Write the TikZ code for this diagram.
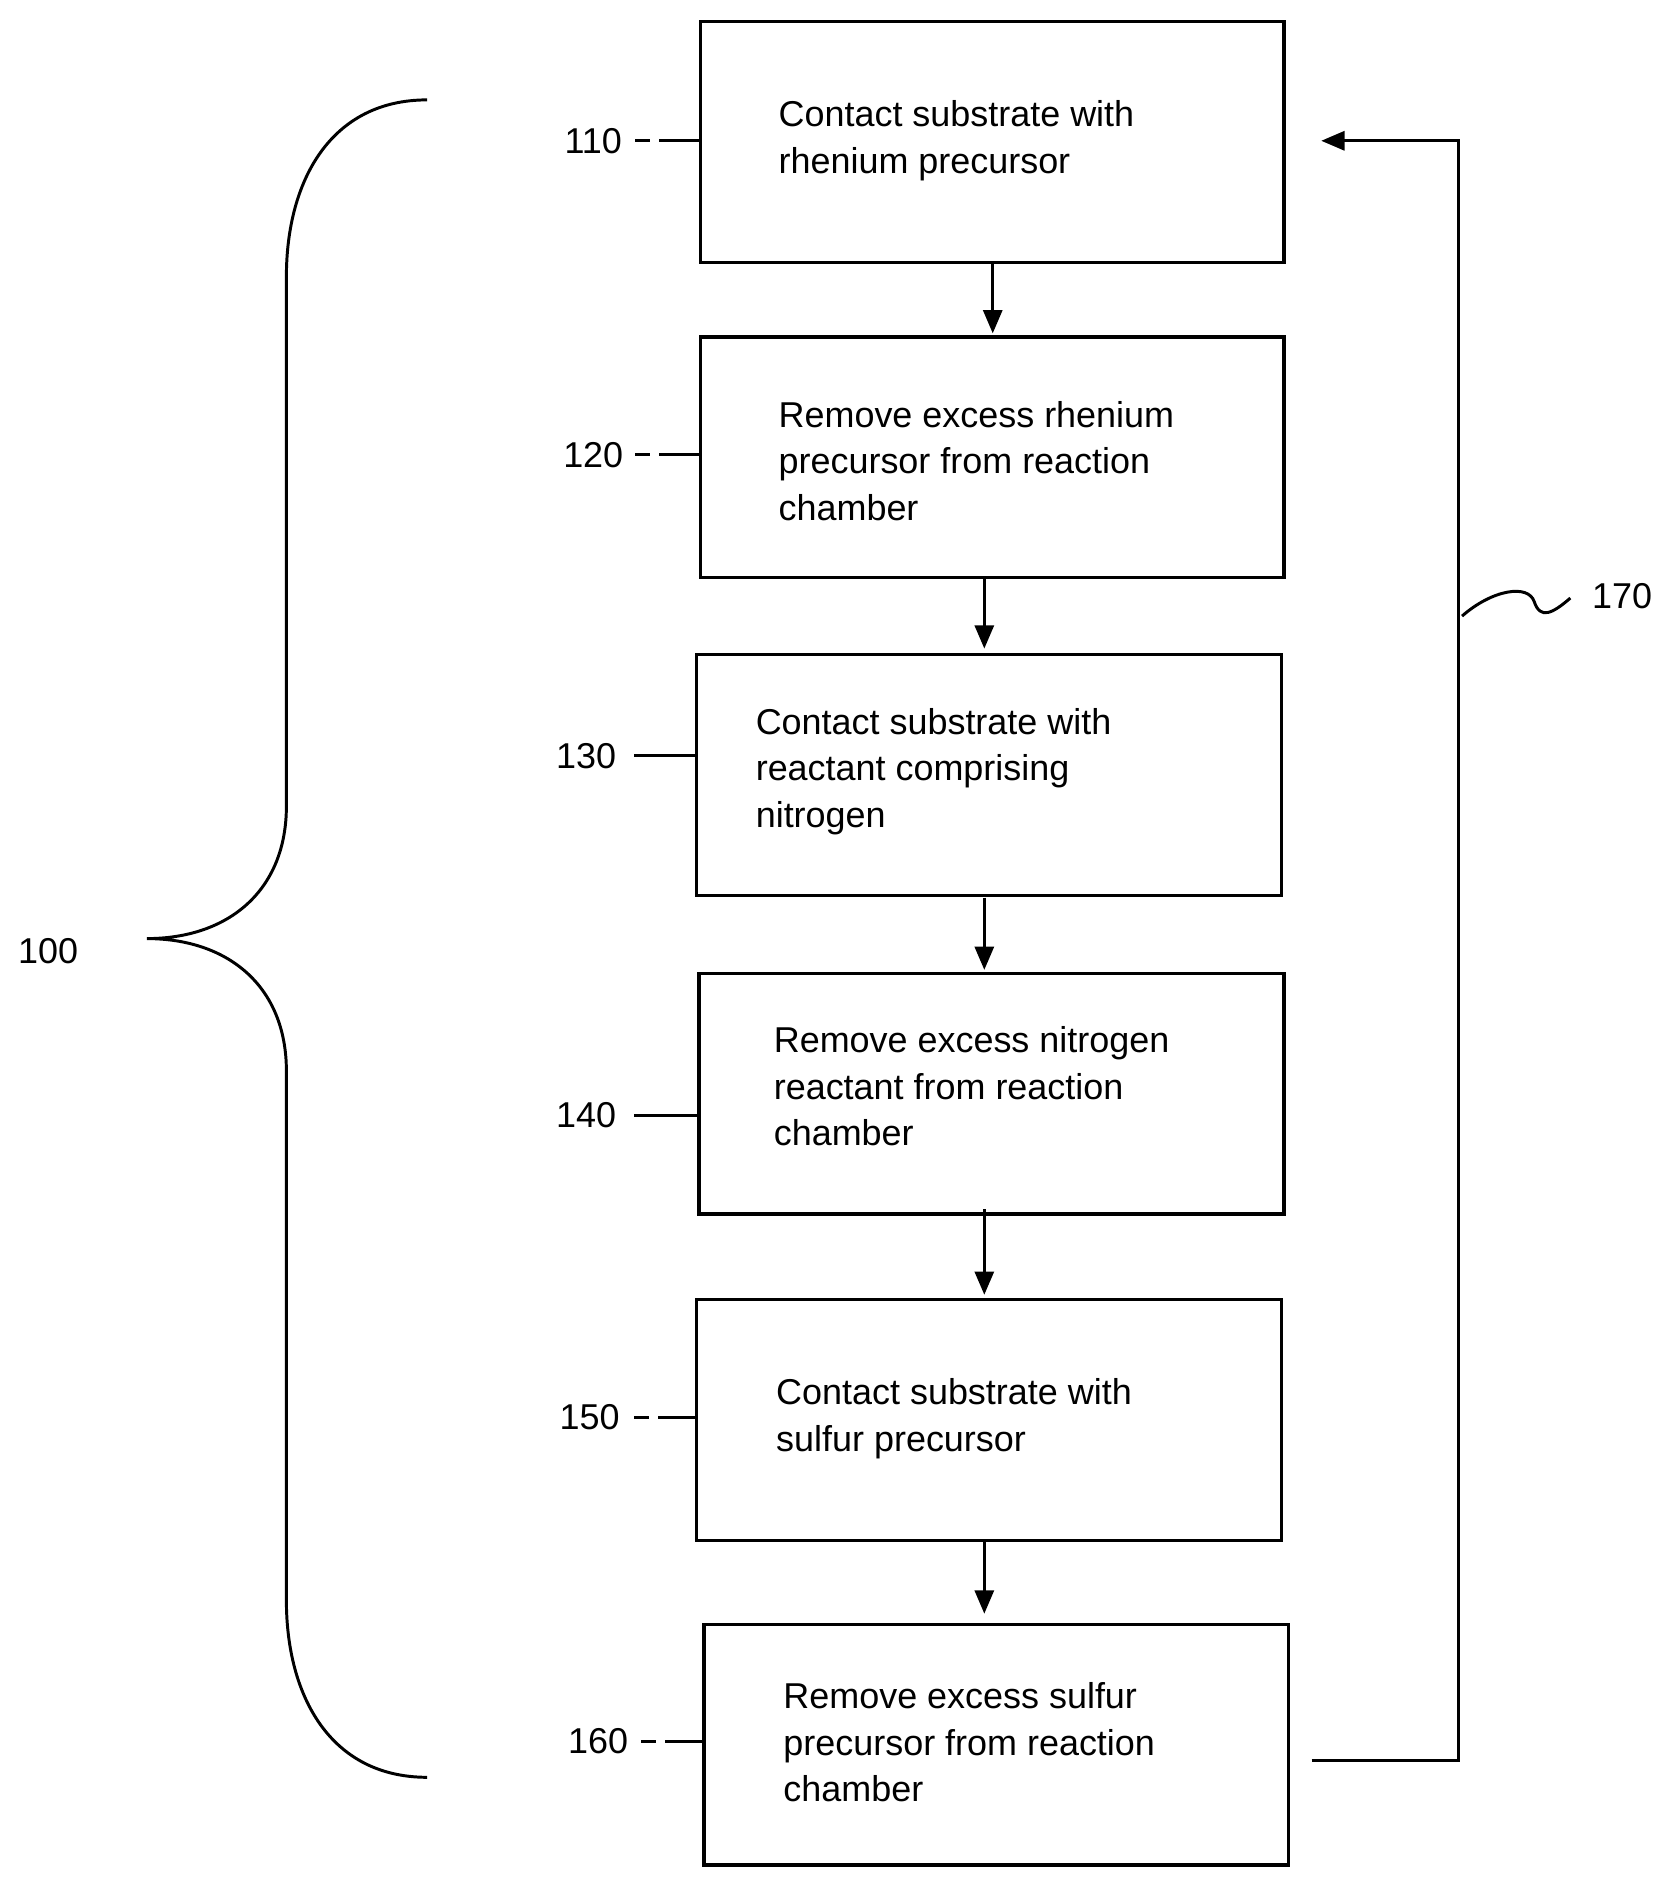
\documentclass[tikz,border=0pt]{standalone}
\usepackage{fontspec}
\setmainfont{Liberation Sans}
\usetikzlibrary{arrows.meta}
\begin{document}
\begin{tikzpicture}[x=0.02cm,y=-0.02cm,line width=1.4pt,
  box/.style={draw,line width=1.6pt},
  txt/.style={anchor=west,align=left,font=\fontsize{17}{22}\selectfont},
  lbl/.style={font=\fontsize{17}{20}\selectfont},
  arr/.style={-{Triangle[length=11pt,width=9pt]}}]
\useasboundingbox (0,0) rectangle (1390,1569);
\draw[box] (582,18) rectangle (1067,218) coordinate (b1);
\draw[box] (582,280) rectangle (1067,480);
\draw[box] (579,544) rectangle (1065,744);
\draw[box] (581,809) rectangle (1067,1009);
\draw[box] (579,1080) rectangle (1065,1280);
\draw[box] (585,1350) rectangle (1071,1550);
\node[txt] (t1) at (640,117) {Contact substrate with\\rhenium precursor};
\node[txt] (t2) at (640,383) {Remove excess rhenium\\precursor from reaction\\chamber};
\node[txt] (t3) at (621,641) {Contact substrate with\\reactant comprising\\nitrogen};
\node[txt] (t4) at (636,903) {Remove excess nitrogen\\reactant from reaction\\chamber};
\node[txt] (t5) at (638,1179) {Contact substrate with\\sulfur precursor};
\node[txt] (t6) at (644,1448) {Remove excess sulfur\\precursor from reaction\\chamber};
\coordinate (a1) at (825,218); \coordinate (a1e) at (825,277);
\draw[arr] (825,218) -- (825,277);
\draw[arr] (818,480) -- (818,539);
\draw[arr] (818,746) -- (818,806);
\draw[arr] (818,1005) -- (818,1076);
\draw[arr] (818,1280) -- (818,1341);
\draw[arr] (1090,1463) -- (1212,1463) -- (1212,117) -- (1098,117);
\draw (1215,512) .. controls (1240,490) and (1270,485) .. (1275,500) .. controls (1280,515) and (1290,510) .. (1305,497);
\node[lbl] (l170) at (1348,495) {170};
\node[lbl] (l100) at (40,790) {100};
\node[lbl] (l110) at (493,117) {110};
\node[lbl] (l120) at (493,378) {120};
\node[lbl] (l130) at (487,628) {130};
\node[lbl] (l140) at (487,927) {140};
\node[lbl] (l150) at (490,1178) {150};
\node[lbl] (l160) at (497,1447) {160};
\draw (528,117)--(540,117) (548,117)--(582,117);
\draw (528,378)--(540,378) (548,378)--(582,378);
\draw (527,628)--(579,628);
\draw (527,927)--(581,927);
\draw (527,1178)--(539,1178) (547,1178)--(579,1178);
\draw (533,1447)--(545,1447) (553,1447)--(585,1447);
\draw (355,83) .. controls (275,83) and (238,150) .. (238,230) -- (238,670)
  .. controls (238,740) and (190,780) .. (122,780)
  .. controls (190,780) and (238,820) .. (238,890) -- (238,1330)
  .. controls (238,1410) and (275,1477) .. (355,1477);
\end{tikzpicture}
\end{document}
